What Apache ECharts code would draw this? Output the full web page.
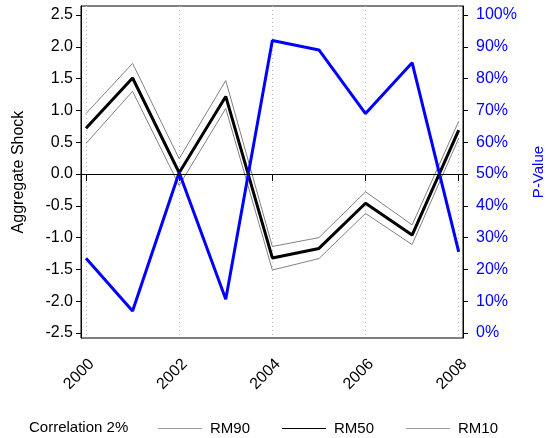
<!DOCTYPE html>
<html>
<head>
<meta charset="utf-8">
<script src="https://cdn.jsdelivr.net/npm/echarts@6/dist/echarts.min.js"></script>
<style>
  html, body { margin: 0; padding: 0; background: #fff; }
  #chart { width: 548px; height: 438px; }
</style>
</head>
<body>
<div id="chart"></div>
<script>
// data
var years = [2000, 2001, 2002, 2003, 2004, 2005, 2006, 2007, 2008]
var rm90 = [0.95, 1.74, 0.24, 1.47, -1.14, -1.00, -0.28, -0.80, 0.83]
var rm50 = [0.72, 1.51, 0.02, 1.22, -1.32, -1.17, -0.46, -0.96, 0.69]
var rm10 = [0.48, 1.30, -0.18, 1.03, -1.51, -1.33, -0.62, -1.11, 0.56]
var pValue = [23.5, 6.9, 50.5, 10.6, 92, 89, 69, 85, 25.5]

var yearTicks = [2000, 2002, 2004, 2006, 2008]
var shockTicks = [-2.5, -2, -1.5, -1, -0.5, 0, 0.5, 1, 1.5, 2, 2.5]
var pTicks = [0, 10, 20, 30, 40, 50, 60, 70, 80, 90, 100]

var font = 'Liberation Sans, Arial, sans-serif'

function pairs(vals) {
  return years.map(function (y, i) { return [y, vals[i]] })
}

var chart = echarts.init(document.getElementById('chart'))

chart.setOption({
  animation: false,
  title: {
    text: 'Correlation 2%',
    left: 24,
    top: 415,
    textStyle: { fontFamily: font, fontSize: 15, fontWeight: 'normal', color: '#000' }
  },
  legend: {
    left: 153,
    top: 416,
    icon: 'rect',
    itemWidth: 44,
    itemHeight: 1,
    itemGap: 32,
    data: ['RM90', 'RM50', 'RM10'],
    textStyle: { fontFamily: font, fontSize: 15, color: '#000', padding: [0, 0, 0, 3] }
  },
  grid: {
    left: 81,
    right: 85,
    top: 6,
    bottom: 100,
    outerBoundsMode: 'none',
    show: true,
    borderColor: '#000',
    borderWidth: 1
  },
  xAxis: {
    type: 'value',
    min: 1999.893,
    max: 2008.092,
    axisLine: { show: true, lineStyle: { color: '#000' } },
    axisTick: { show: true, length: 7, customValues: yearTicks, lineStyle: { color: '#000' } },
    axisLabel: {
      customValues: yearTicks,
      rotate: 45,
      margin: 18,
      verticalAlign: 'top',
      fontFamily: font,
      fontSize: 16,
      color: '#000',
      formatter: function (v) { return String(v) }
    },
    splitLine: { show: true, lineStyle: { color: '#bdbdbd', type: [1, 3], width: 1 } }
  },
  yAxis: [{
    type: 'value',
    min: -2.5786,
    max: 2.6415,
    name: 'Aggregate Shock',
    nameLocation: 'middle',
    nameGap: 54,
    nameTextStyle: { fontFamily: font, fontSize: 16, color: '#000' },
    axisLine: { show: true, lineStyle: { color: '#000' } },
    axisTick: { show: true, length: 5, customValues: shockTicks, lineStyle: { color: '#000' } },
    axisLabel: {
      customValues: shockTicks,
      margin: 8,
      fontFamily: font,
      fontSize: 16,
      color: '#000',
      formatter: function (v) { return v.toFixed(1) }
    },
    splitLine: { show: false }
  }, {
    type: 'value',
    position: 'right',
    min: -1.572,
    max: 102.83,
    name: 'P-Value',
    nameLocation: 'middle',
    nameGap: 68,
    nameRotate: 90,
    nameTextStyle: { fontFamily: font, fontSize: 15, color: '#0000ff' },
    axisLine: { show: true, lineStyle: { color: '#000' } },
    axisTick: { show: true, length: 5, customValues: pTicks, lineStyle: { color: '#000' } },
    axisLabel: {
      customValues: pTicks,
      margin: 13,
      fontFamily: font,
      fontSize: 16,
      color: '#0000ff',
      formatter: function (v) { return v + '%' }
    },
    splitLine: { show: false }
  }],
  series: [{
    name: 'RM90',
    type: 'line',
    symbol: 'none',
    data: pairs(rm90),
    lineStyle: { color: '#808080', width: 1 },
    itemStyle: { color: '#a0a0a0' }
  }, {
    name: 'RM50',
    type: 'line',
    symbol: 'none',
    data: pairs(rm50),
    lineStyle: { color: '#000', width: 3 },
    itemStyle: { color: '#000' },
    markLine: {
      silent: true,
      symbol: 'none',
      label: { show: false },
      lineStyle: { color: '#000', width: 1, type: 'solid' },
      data: [{ yAxis: 0 }]
    }
  }, {
    name: 'RM10',
    type: 'line',
    symbol: 'none',
    data: pairs(rm10),
    lineStyle: { color: '#808080', width: 1 },
    itemStyle: { color: '#a0a0a0' }
  }, {
    name: 'P-Value',
    type: 'line',
    yAxisIndex: 1,
    symbol: 'none',
    data: pairs(pValue),
    lineStyle: { color: '#0000ff', width: 3 },
    itemStyle: { color: '#0000ff' }
  }]
})
</script>
</body>
</html>
